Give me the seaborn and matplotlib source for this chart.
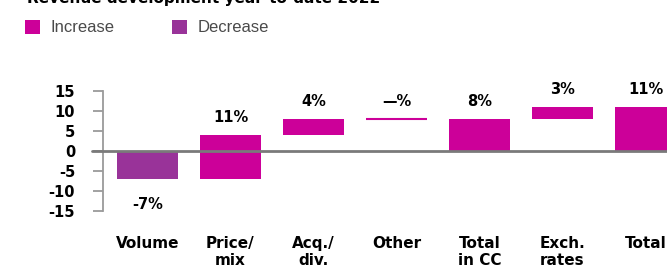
import matplotlib
matplotlib.use("Agg")
import matplotlib.pyplot as plt
from matplotlib.patches import Patch
import seaborn as sns
import numpy as np

# ---- data ----
categories = ["Volume", "Price/\nmix", "Acq./\ndiv.", "Other", "Total\nin CC", "Exch.\nrates", "Total"]
values = [-7, 11, 4, 0, 8, 3, 11]
is_total = [False, False, False, False, True, False, True]
value_labels = ["-7%", "11%", "4%", "\u2014%", "8%", "3%", "11%"]
yticks = [-15, -10, -5, 0, 5, 10, 15]
title = "Revenue development year-to-date 2022"
legend_labels = ["Increase", "Decrease"]

INC = "#CC0099"
DEC = "#993399"

# waterfall bottoms computed from the deltas
bottoms, heights = [], []
running = 0
for v, t in zip(values, is_total):
    if t:
        bottoms.append(0)
        heights.append(v)
        running = v
    else:
        bottoms.append(running)
        heights.append(v)
        running += v
colors = [INC if v >= 0 else DEC for v in values]

sns.set_theme(style="white")
plt.rcParams["font.family"] = ["DejaVu Sans"]
plt.rcParams["text.color"] = "black"
plt.rcParams["xtick.labelcolor"] = "black"
plt.rcParams["ytick.labelcolor"] = "black"

fig = plt.figure(figsize=(6.67, 2.67), dpi=100)
ax = fig.add_axes([103 / 667, 56 / 267, 592.3 / 667, 120 / 267])

sns.barplot(x=list(range(len(categories))), y=heights, bottom=bottoms,
            width=0.735, ax=ax, native_scale=True, linewidth=0,
            color=INC, saturation=1)
for p, c, h in zip(ax.patches, colors, heights):
    p.set_facecolor(c)
    if h == 0:
        p.set_edgecolor(c)
        p.set_linewidth(1.5)
    else:
        p.set_edgecolor("none")

ax.axhline(0, color="#7a7a7a", lw=2, zorder=3, xmin=-0.018, clip_on=False)

ax.set_xlim(-0.536, 6.6)
ax.set_ylim(-15, 15)
ax.set_yticks(yticks)
ax.set_yticklabels([str(t) for t in yticks], fontsize=10.5, fontweight="bold")
ax.set_xticks(range(len(categories)))
ax.set_xticklabels(categories, fontsize=11, fontweight="bold", linespacing=1.2)
ax.tick_params(axis="x", length=0, pad=18, labelcolor="black")
ax.tick_params(axis="y", direction="out", length=7, width=1.3, color="#9a9a9a",
               pad=13, left=True, labelcolor="black")
for s in ["top", "right", "bottom"]:
    ax.spines[s].set_visible(False)
ax.spines["left"].set_color("#9a9a9a")
ax.spines["left"].set_linewidth(1.3)
ax.spines["left"].set_bounds(-15, 15)
ax.set_xlabel("")
ax.set_ylabel("")

for i, (b, h, lab) in enumerate(zip(bottoms, heights, value_labels)):
    top = max(b, b + h)
    low = min(b, b + h)
    if values[i] < 0:
        ax.annotate(lab, (i, low), xytext=(0, -13), textcoords="offset points",
                    ha="center", va="top", fontsize=10.5, fontweight="bold",
                    color="black", annotation_clip=False)
    else:
        ax.annotate(lab, (i, top), xytext=(0, 7), textcoords="offset points",
                    ha="center", va="bottom", fontsize=10.5, fontweight="bold",
                    color="black", annotation_clip=False)

fig.text(27 / 667, 1 - 3 / 267, title, fontsize=11, fontweight="bold",
         ha="left", va="baseline", color="black")

handles = [Patch(facecolor=INC, edgecolor="none"), Patch(facecolor=DEC, edgecolor="none")]
fig.legend(handles, legend_labels, loc="center left", bbox_to_anchor=(25 / 667, 1 - 27.5 / 267),
           ncol=2, frameon=False, prop={"family": "Liberation Sans", "size": 12},
           handlelength=0.9, handleheight=0.9,
           handletextpad=0.6, columnspacing=3.5, borderpad=0, borderaxespad=0,
           labelcolor="#4a4a4a")

fig.savefig("out.png", dpi=100)
